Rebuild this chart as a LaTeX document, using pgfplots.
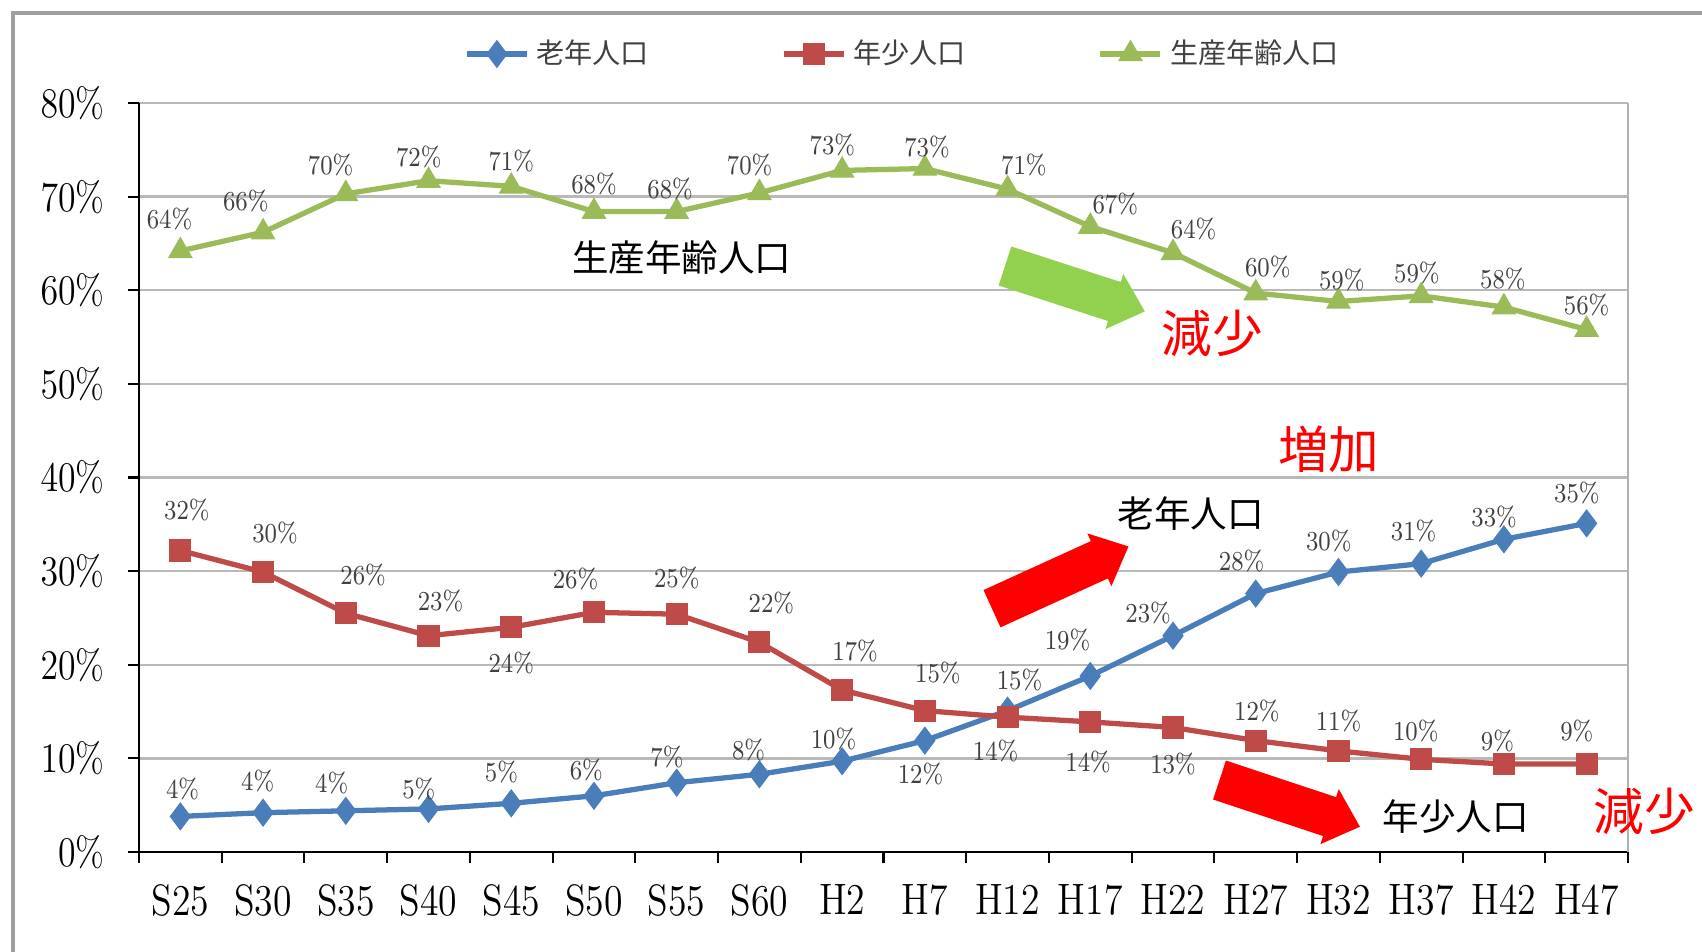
\documentclass[border=0pt]{standalone}
\usepackage{pgfplots}
\pgfplotsset{compat=1.18}
\usepackage{pgfplotstable}
\usepackage{fontspec}
\newfontfamily\jp{Noto Sans CJK JP}
\definecolor{cBlue}{HTML}{4A7EBB}
\definecolor{cRed}{HTML}{BE4B48}
\definecolor{cGreen}{HTML}{9BBB59}
\definecolor{cArrowG}{HTML}{92D050}
\definecolor{lbl}{HTML}{404040}

\pgfplotstableread{
x y lab dx dy
0 3.8 4 2 25
1 4.2 4 -5 29
2 4.4 4 -13 26
3 4.6 5 -9 18
4 5.2 5 -9 29
5 6.0 6 -7 24
6 7.4 7 -9 24
7 8.3 8 -10 22
8 9.7 10 -8 20
9 11.9 12 -4 -31
10 15.1 15 11 28
11 18.8 19 -21 33
12 23.1 23 -23 21
13 27.6 28 -13 30
14 29.9 30 -9 29
15 30.8 31 -7 30
16 33.4 33 -9 21
17 35.1 35 -9 28
}\oldtab

\pgfplotstableread{
x y lab dx dy
0 32.2 32 6 37
1 29.9 30 11 36
2 25.5 26 16 35
3 23.1 23 11 32
4 24.0 24 0 -33
5 25.6 26 -17 31
6 25.4 25 0 33
7 22.4 22 11 36
8 17.3 17 12 36
9 15.1 15 12 35
10 14.4 14 -11 -31
11 13.9 14 -2 -37
12 13.3 13 0 -34
13 11.9 12 1 27
14 10.8 11 0 28
15 9.9 10 -5 26
16 9.4 9 -6 21
17 9.4 9 -9 30
}\youngtab

\pgfplotstableread{
x y lab dx dy
0 64.2 64 -10 29
1 66.2 66 -16 29
2 70.3 70 -14 27
3 71.7 72 -9 22
4 71.1 71 0 23
5 68.4 68 0 25
6 68.4 68 -6 21
7 70.4 70 -9 26
8 72.8 73 -9 23
9 73.0 73 2 20
10 70.8 71 15 22
11 66.8 67 23 21
12 64.0 64 19 22
13 59.7 60 11 24
14 58.8 59 3 20
15 59.4 59 -4 21
16 58.2 58 -1 26
17 55.8 56 0 23
}\worktab

\newcommand{\blockarrow}[4]{%
  \begin{scope}[shift={#1}, rotate=#2]
    \fill[#4] (0,-0.205) -- ({#3-0.32},-0.205) -- ({#3-0.32},-0.29) -- (#3,0)
      -- ({#3-0.32},0.29) -- ({#3-0.32},0.205) -- (0,0.205) -- cycle;
  \end{scope}}

\pgfplotsset{
  lbls/.style={
    point meta=explicit symbolic,
    nodes near coords={\pgfplotspointmeta\%},
    visualization depends on={0.3088*\thisrow{dx} \as \dx},
    visualization depends on={0.3088*\thisrow{dy} \as \dy},
    every node near coord/.append style={anchor=center, xshift=\dx pt, yshift=\dy pt,
      font=\fontsize{7.8}{8}\selectfont, text=lbl, xscale=0.85, inner sep=0pt},
  }
}

\begin{document}
\begin{tikzpicture}
\path[use as bounding box] (-1.39,-1.00) rectangle (15.63,8.52);
\draw[gray!75, line width=0.9pt] (-1.26,-1.3) -- (-1.26,8.39) -- (15.8,8.39);
\begin{axis}[
  at={(0,0)}, anchor=south west,
  scale only axis, width=14.89cm, height=7.49cm,
  xmin=-0.5, xmax=17.5, ymin=0, ymax=80,
  clip=false,
  axis lines*=left,
  axis line style={black, line width=0.8pt},
  xtick={-0.5,0.5,...,17.5},
  xticklabels={},
  extra x ticks={0,1,...,17},
  extra x tick labels={S25,S30,S35,S40,S45,S50,S55,S60,H2,H7,H12,H17,H22,H27,H32,H37,H42,H47},
  extra x tick style={major tick length=0pt, grid=none,
    tick label style={font=\fontsize{12.5}{13}\selectfont, yshift=-5.6pt, xscale=0.86}},
  ytick={0,10,...,80},
  yticklabel={\pgfmathprintnumber{\tick}\%},
  yticklabel style={font=\fontsize{11.8}{12}\selectfont, xshift=-3.7pt, xscale=0.85},
  ymajorgrids,
  grid style={gray!55, line width=0.7pt},
  tick align=outside,
  major tick length=0.11cm,
  tick style={black, line width=0.6pt},
  legend style={at={(0.5145,1.0654)}, anchor=center, draw=none, fill=none,
    font=\jp\fontsize{8}{9}\selectfont, text=lbl,
    /tikz/every even column/.append style={column sep=1.25cm}},
  legend columns=3,
  legend cell align=left,
]
\addplot[cBlue, line width=1.5pt, mark=diamond*, mark size=3.8pt,
  mark options={solid, fill=cBlue, draw=cBlue, line width=0.3pt}, lbls]
  table[x=x, y=y, meta=lab]{\oldtab};
\addlegendentry{老年人口}
\addplot[cRed, line width=1.5pt, mark=square*, mark size=3.0pt,
  mark options={solid, fill=cRed, draw=cRed, line width=0.3pt}, lbls]
  table[x=x, y=y, meta=lab]{\youngtab};
\addlegendentry{年少人口}
\addplot[cGreen, line width=1.5pt, mark=triangle*, mark size=3.8pt,
  mark options={solid, fill=cGreen, draw=cGreen, line width=0.3pt}, lbls]
  table[x=x, y=y, meta=lab]{\worktab};
\addlegendentry{生産年齢人口}
\draw[gray!60, line width=0.7pt] (rel axis cs:1,0) -- (rel axis cs:1,1);
\end{axis}

\blockarrow{(8.66,5.86)}{-18}{1.47}{cArrowG}
\blockarrow{(8.53,2.433)}{24.5}{1.50}{red}
\blockarrow{(10.805,0.72)}{-18.4}{1.48}{red}

\node[font=\jp\fontsize{10.4}{12}\selectfont] at (5.427,5.947) {生産年齢人口};
\node[font=\jp\fontsize{10.4}{12}\selectfont] at (10.518,3.386) {老年人口};
\node[font=\jp\fontsize{10.4}{12}\selectfont] at (13.167,0.357) {年少人口};
\node[font=\jp\fontsize{14.4}{16}\selectfont, text=red] at (10.735,5.188) {減少};
\node[font=\jp\fontsize{14.4}{16}\selectfont, text=red] at (11.897,4.026) {増加};
\node[font=\jp\fontsize{14.4}{16}\selectfont, text=red] at (15.055,0.411) {減少};
\end{tikzpicture}
\end{document}
